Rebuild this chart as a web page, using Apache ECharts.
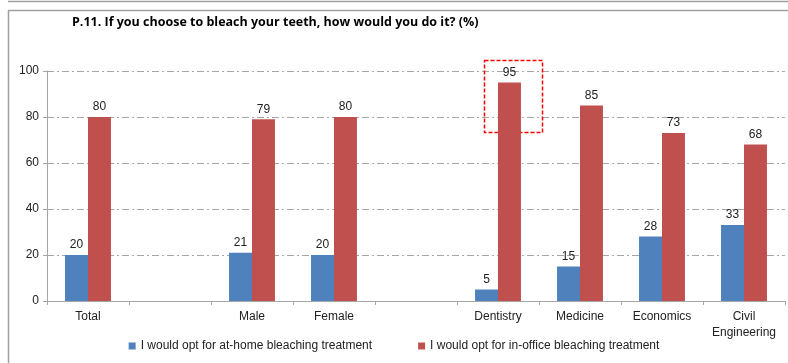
<!DOCTYPE html>
<html><head><meta charset="utf-8">
<script src="https://cdn.jsdelivr.net/npm/echarts@6/dist/echarts.min.js"></script>
<style>html,body{margin:0;padding:0;background:#fff}#c{width:788px;height:363px}</style>
</head><body><div id="c"></div>
<script>
var categories = ['Total', '', 'Male', 'Female', '', 'Dentistry', 'Medicine', 'Economics', 'Civil\nEngineering'];
var atHome = [20, null, 21, 20, null, 5, 15, 28, 33];
var inOffice = [80, null, 79, 80, null, 95, 85, 73, 68];
var seriesNames = ['I would opt for at-home bleaching treatment', 'I would opt for in-office bleaching treatment'];
var yTicks = [0, 20, 40, 60, 80, 100];
var highlightIndex = 5;

var chart = echarts.init(document.getElementById('c'), null, {renderer: 'canvas'});
var font = 'Liberation Sans, Arial, sans-serif';
var lbl = {show: true, position: 'top', distance: 4, color: '#222', fontSize: 12, fontFamily: font};
chart.setOption({
  animation: false,
  title: {text: 'P.11. If you choose to bleach your teeth, how would you do it? (%)', left: 67, top: 11,
    textStyle: {fontFamily: 'Open Sans, sans-serif', fontWeight: 'bold', fontSize: 12.5, color: '#000'}},
  grid: {left: 47, right: 3, top: 71, bottom: 62},
  legend: {bottom: 6, left: 'center', itemWidth: 7, itemHeight: 7, itemGap: 46, icon: 'rect',
    textStyle: {fontFamily: font, fontSize: 12, color: '#222'}},
  xAxis: {type: 'category', data: categories,
    axisLine: {lineStyle: {color: '#a6a6a6'}},
    axisTick: {show: true, length: 4, lineStyle: {color: '#a6a6a6'}},
    axisLabel: {color: '#222', fontFamily: font, fontSize: 12, margin: 8, interval: 0, lineHeight: 16}},
  yAxis: {type: 'value', min: yTicks[0], max: yTicks[yTicks.length - 1], interval: 20,
    axisLine: {show: true, lineStyle: {color: '#a6a6a6'}},
    axisTick: {show: true, length: 4, lineStyle: {color: '#a6a6a6'}},
    axisLabel: {color: '#222', fontFamily: font, fontSize: 12, margin: 8},
    splitLine: {lineStyle: {color: '#a6a6a6', type: [7, 3, 2, 3]}}},
  series: [
    {name: seriesNames[0], type: 'bar', data: atHome, barGap: '0%', barCategoryGap: '44%',
      itemStyle: {color: '#4F81BD'}, label: lbl},
    {name: seriesNames[1], type: 'bar', data: inOffice, barGap: '0%', barCategoryGap: '44%',
      itemStyle: {color: '#C0504D'}, label: lbl}
  ]
});

// highlight box around the Dentistry in-office bar label
var barTop = chart.convertToPixel({xAxisIndex: 0, yAxisIndex: 0}, [highlightIndex, inOffice[highlightIndex]]);
var bw = 23;
var cx = barTop[0] + bw / 2;
chart.setOption({
  graphic: [
    {type: 'line', shape: {x1: 8, y1: 1.5, x2: 788, y2: 1.5}, style: {stroke: '#a0a0a0', lineWidth: 1.5}},
    {type: 'line', shape: {x1: 8, y1: 10.5, x2: 788, y2: 10.5}, style: {stroke: '#a0a0a0', lineWidth: 1.5}},
    {type: 'line', shape: {x1: 8.5, y1: 10, x2: 8.5, y2: 363}, style: {stroke: '#a0a0a0', lineWidth: 1.5}},
    {type: 'rect', shape: {x: cx - 25, y: barTop[1] - 22, width: 58, height: 72},
      style: {fill: 'none', stroke: '#ff0000', lineWidth: 1.5, lineDash: [4, 2]}}
  ]
});
</script></body></html>
